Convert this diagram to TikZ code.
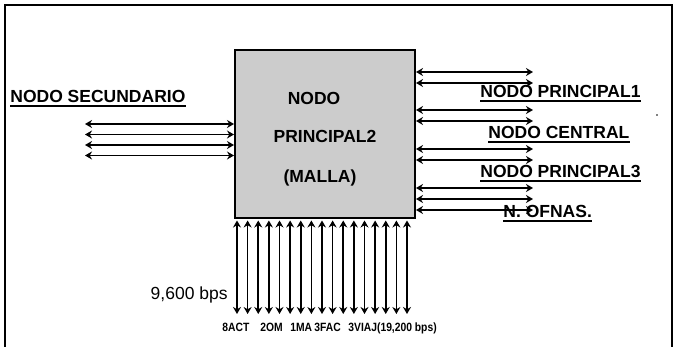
\documentclass[tikz,border=0pt]{standalone}
\usepackage{fontspec}
\setmainfont{Liberation Sans}
\newfontfamily\estrecha[FakeStretch=0.86]{Liberation Sans}
\usetikzlibrary{arrows.meta}

\begin{document}
\begin{tikzpicture}[x=1pt, y=-1pt, >=Stealth, thick,
  caja/.style={draw, line width=2pt, fill=gray!40, minimum width=180pt,
    minimum height=168pt, inner sep=0pt},
  enlace/.style={{Stealth[length=7pt,width=8pt]}-{Stealth[length=7pt,width=8pt]}, line width=1.6pt},
  nombre/.style={font=\bfseries\fontsize{17.5}{20}\selectfont, inner sep=0pt, anchor=base west},
  canal/.style={font=\estrecha\bfseries\fontsize{12}{13}\selectfont, inner sep=0pt, anchor=base west}]

  \useasboundingbox (0,0) rectangle (673,347);
  % marco
  \draw[line width=1.4pt] (5,347) -- (5,5) -- (672,5) -- (672,347);

  % nodo central de la malla
  \node[caja] (malla) at (325,134) {};
  \node[nombre, anchor=base] (t1) at (314,105) {NODO};
  \node[nombre, anchor=base] (t2) at (325,143) {PRINCIPAL2};
  \node[nombre, anchor=base] (t3) at (320,183) {(MALLA)};

  % etiquetas
  \node[nombre] (sec)  at (10,103)  {NODO SECUNDARIO};
  \node[nombre] (np1)  at (480,98)  {NODO PRINCIPAL1};
  \node[nombre] (cen)  at (488,139) {NODO CENTRAL};
  \node[nombre] (np3)  at (480,178) {NODO PRINCIPAL3};
  \node[nombre] (ofn)  at (503,218) {N. OFNAS.};
  \foreach \n in {sec,np1,cen,np3,ofn}
    \draw[line width=1.4pt] ([yshift=-3pt]\n.base west) -- ([yshift=-3pt]\n.base east);
  \fill (657,115) circle (0.9pt);

  % enlaces del nodo secundario
  \foreach \y [count=\i] in {124,134.5,145,155.5} {
    \coordinate (izq\i) at (85,\y);
    \draw[enlace] (izq\i) -- (izq\i -| malla.west);
  }

  % enlaces hacia los otros nodos
  \foreach \y [count=\i] in {72,83,110,121,149,160,188,199,210} {
    \coordinate (der\i) at (533,\y);
    \draw[enlace] (der\i -| malla.east) -- (der\i);
  }

  % canales de 9,600 bps
  \foreach \i in {0,...,16} {
    \coordinate (abj\i) at (237+10.625*\i,314);
    \draw[enlace] ([yshift=-1.5pt]abj\i |- malla.south) -- (abj\i);
  }
  \node[font=\fontsize{17.5}{20}\selectfont, inner sep=0pt, anchor=base east] (vel) at (228,300) {9,600 bps};

  \node[canal] (act)  at (222,332) {8ACT};
  \node[canal] (om)   at (260,332) {2OM};
  \node[canal] (ma)   at (290,332) {1MA};
  \node[canal] (fac)  at (314,332) {3FAC};
  \node[canal] (viaj) at (348,332) {3VIAJ(19,200 bps)};

\end{tikzpicture}
\end{document}
